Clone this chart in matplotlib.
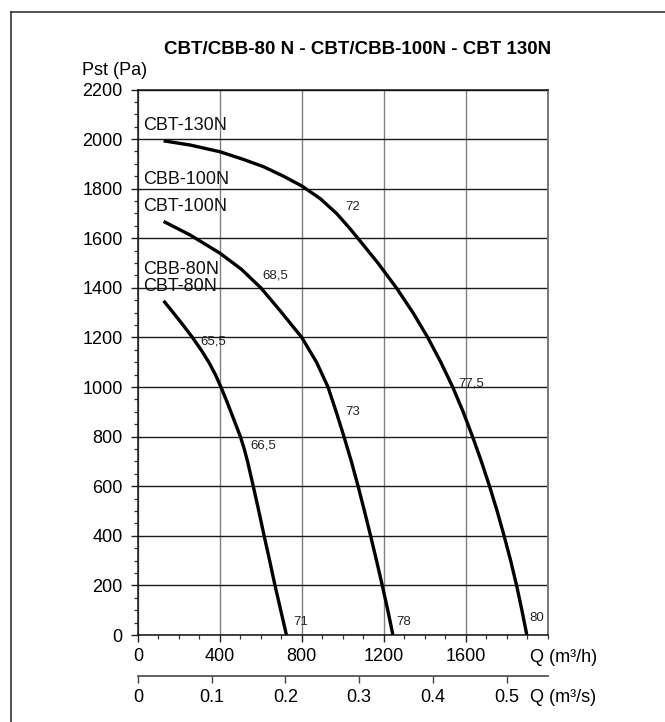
import matplotlib
matplotlib.use("Agg")
import matplotlib.pyplot as plt
from matplotlib.ticker import MultipleLocator
from matplotlib.lines import Line2D

plt.rcParams['font.family'] = ['Liberation Sans', 'DejaVu Sans']

# curves: Q in m3/h, Pst in Pa
q_80 = [125, 172, 220, 266, 308, 346, 378, 405, 430, 456, 477, 500, 519, 535, 563, 590, 616, 643, 669, 697, 725]
p_80 = [1348, 1300, 1250, 1200, 1150, 1100, 1050, 1000, 950, 895, 850, 800, 750, 700, 600, 500, 400, 300, 200, 100, 0]

q_100 = [125, 255, 400, 505, 600, 692, 800, 872, 928, 968, 1006, 1042, 1075, 1106, 1136, 1165, 1193, 1220, 1245]
p_100 = [1668, 1613, 1540, 1475, 1400, 1310, 1200, 1100, 1000, 900, 800, 700, 600, 500, 400, 300, 200, 100, 0]

q_130 = [125, 255, 400, 515, 612, 709, 800, 890, 970, 1034, 1074, 1172, 1262, 1343, 1415, 1479, 1537,
         1588, 1634, 1677, 1717, 1754, 1788, 1820, 1849, 1875, 1899]
p_130 = [1993, 1976, 1949, 1918, 1889, 1851, 1811, 1760, 1700, 1640, 1600, 1500, 1400, 1300, 1200, 1100, 1000,
         900, 800, 700, 600, 500, 400, 300, 200, 100, 0]

# model names at the left of the curves
model_names = ['CBT-130N', 'CBB-100N', 'CBT-100N', 'CBB-80N', 'CBT-80N']
model_pst = [2056, 1839, 1730, 1474, 1405]

# small numbers along the curves
note_text = ['72', '68,5', '65,5', '66,5', '73', '77,5', '71', '78', '80']
note_q = [1011, 607, 304, 549, 1011, 1564, 759, 1263, 1911]
note_p = [1725, 1449, 1183, 766, 899, 1015, 51, 51, 67]

q_ticks = [0, 400, 800, 1200, 1600]
sec_ticks = [0, 0.1, 0.2, 0.3, 0.4, 0.5]
sec_labels = ['0', '0.1', '0.2', '0.3', '0.4', '0.5']

W, H = 665, 722
fig = plt.figure(figsize=(W / 100, H / 100), dpi=100)
ax = fig.add_axes([138 / W, 87 / H, 409.5 / W, 545.5 / H])

ax.set_xlim(0, 2000)
ax.set_ylim(0, 2200)
ax.set_xticks(q_ticks)
ax.xaxis.set_minor_locator(MultipleLocator(100))
ax.yaxis.set_major_locator(MultipleLocator(200))
ax.yaxis.set_minor_locator(MultipleLocator(50))

ax.grid(True, axis='y', color='#1a1a1a', lw=1.0)
ax.grid(True, axis='x', color='#808080', lw=1.0)
ax.set_axisbelow(True)

ax.tick_params(which='major', direction='out', length=5, width=1, labelsize=13, color='#222')
ax.tick_params(which='minor', direction='out', length=2.8, width=0.9, color='#333')
ax.tick_params(axis='y', which='major', pad=6)
ax.tick_params(axis='x', which='major', pad=4.5)

for s in ['left', 'bottom', 'top']:
    ax.spines[s].set_color('#111')
    ax.spines[s].set_linewidth(1.1)
ax.spines['right'].set_color('#777')
ax.spines['right'].set_linewidth(1.4)

for q, p in [(q_80, p_80), (q_100, p_100), (q_130, p_130)]:
    ax.plot(q, p, color='black', lw=2.4, solid_capstyle='butt', solid_joinstyle='round', zorder=3)

for name, p in zip(model_names, model_pst):
    ax.text(26, p, name, fontsize=13, va='center', ha='left', color='#111', zorder=4)

for t, q, p in zip(note_text, note_q, note_p):
    ax.text(q, p, t, fontsize=9.5, va='center', ha='left', color='#222', zorder=4)

# second scale in m3/s
sec = ax.secondary_xaxis(-41 / 545.5, functions=(lambda q: q / 3600, lambda s: s * 3600))
sec.set_xticks(sec_ticks, sec_labels)
sec.tick_params(direction='out', length=5, width=1, labelsize=13, pad=4.5, color='#444')
sec.spines['bottom'].set_color('#555')
sec.spines['bottom'].set_linewidth(1.3)

fig.text(530 / W, 1 - 657 / H, 'Q (m³/h)', fontsize=13, va='center', ha='left')
fig.text(530 / W, 1 - 697.5 / H, 'Q (m³/s)', fontsize=13, va='center', ha='left')
fig.text(81.7 / W, 1 - 70.5 / H, 'Pst (Pa)', fontsize=13, va='center', ha='left')
fig.text(358 / W, 1 - 49 / H, 'CBT/CBB-80 N - CBT/CBB-100N - CBT 130N',
         fontsize=13.5, fontweight='bold', va='center', ha='center')

# frame of the picture, cut off at right and bottom
fig.add_artist(Line2D([11 / W, 1.0], [1 - 11.7 / H, 1 - 11.7 / H], color='#333', lw=1.2))
fig.add_artist(Line2D([11 / W, 11 / W], [0.0, 1 - 11.7 / H], color='#333', lw=1.2))

fig.savefig('out.png', dpi=100)
